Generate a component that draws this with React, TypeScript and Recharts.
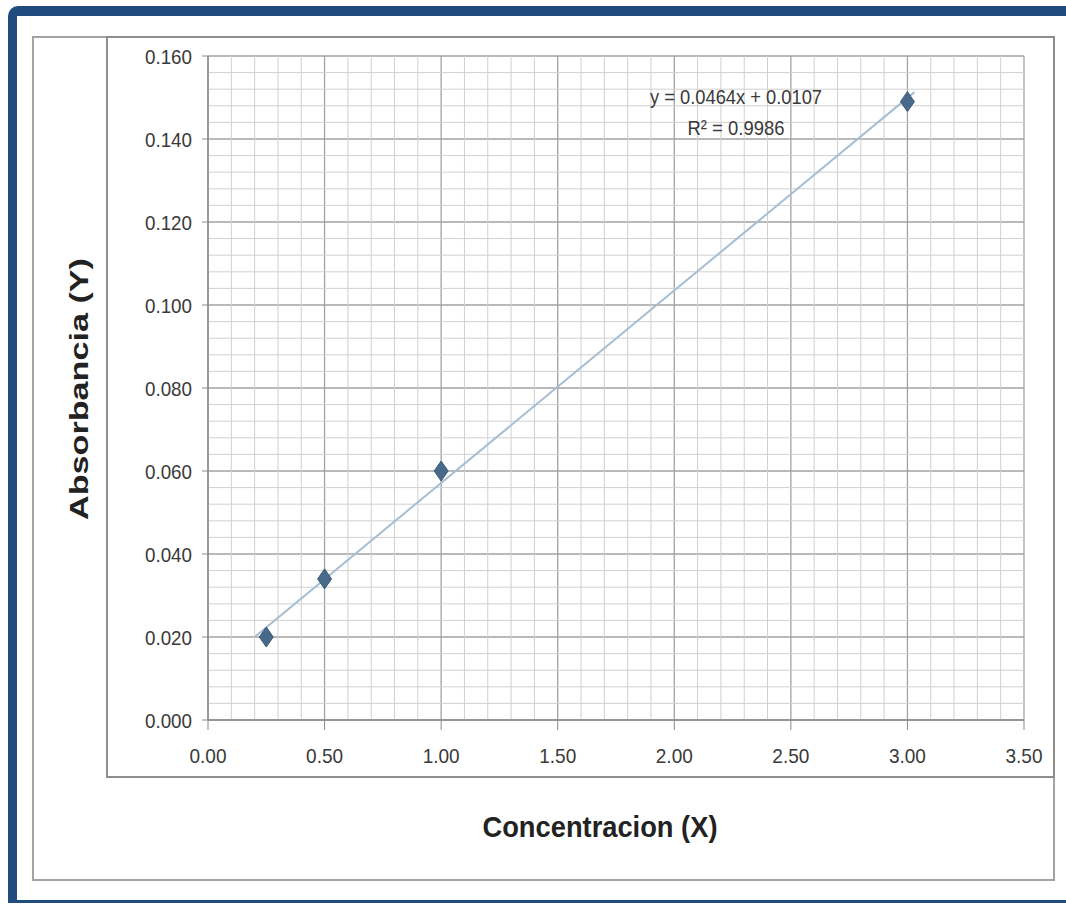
import React from "react";
import {
  ScatterChart,
  Scatter,
  XAxis,
  YAxis,
  CartesianGrid,
  ReferenceLine,
} from "recharts";

// calibration points
const concentracion = [0.25, 0.5, 1.0, 3.0];
const absorbancia = [0.02, 0.034, 0.06, 0.149];

// trendline ends (as drawn)
const trendX = [0.2, 3.03];
const trendY = [0.02, 0.1513];

const xTicks = [0, 0.5, 1, 1.5, 2, 2.5, 3, 3.5];
const yTicks = [0, 0.02, 0.04, 0.06, 0.08, 0.1, 0.12, 0.14, 0.16];

const xMinor = [
  0.1, 0.2, 0.3, 0.4, 0.6, 0.7, 0.8, 0.9, 1.1, 1.2, 1.3, 1.4, 1.6, 1.7, 1.8,
  1.9, 2.1, 2.2, 2.3, 2.4, 2.6, 2.7, 2.8, 2.9, 3.1, 3.2, 3.3, 3.4,
];
const yMinor = [
  0.004, 0.008, 0.012, 0.016, 0.024, 0.028, 0.032, 0.036, 0.044, 0.048, 0.052,
  0.056, 0.064, 0.068, 0.072, 0.076, 0.084, 0.088, 0.092, 0.096, 0.104, 0.108,
  0.112, 0.116, 0.124, 0.128, 0.132, 0.136, 0.144, 0.148, 0.152, 0.156,
];

const equationText = "y = 0.0464x + 0.0107";
const r2Text = "R² = 0.9986";

const points = concentracion.map((x, i) => ({ x, y: absorbancia[i] }));
const trend = trendX.map((x, i) => ({ x, y: trendY[i] }));

const tickFont = "'Liberation Sans Narrow', 'Arial Narrow', 'Liberation Sans', sans-serif";
const titleFont = "'Liberation Sans', Arial, sans-serif";

const Diamond = (props: any) => {
  const { cx, cy } = props;
  if (cx == null || cy == null) return <g />;
  return (
    <polygon
      points={`${cx},${cy - 10} ${cx + 7},${cy} ${cx},${cy + 10} ${cx - 7},${cy}`}
      fill="#48698a"
      stroke="#3d5b7a"
      strokeWidth={1}
    />
  );
};

const XTick = (props: any) => {
  const { x, y, payload } = props;
  return (
    <text
      x={x}
      y={y}
      dy={31}
      textAnchor="middle"
      fontFamily={tickFont}
      fontSize={21}
      fill="#3a3a3a"
      textLength={37}
      lengthAdjust="spacingAndGlyphs"
    >
      {Number(payload.value).toFixed(2)}
    </text>
  );
};

const YTick = (props: any) => {
  const { x, y, payload } = props;
  return (
    <text
      x={x - 8}
      y={y}
      dy={8}
      textAnchor="end"
      fontFamily={tickFont}
      fontSize={21}
      fill="#3a3a3a"
      textLength={47}
      lengthAdjust="spacingAndGlyphs"
    >
      {Number(payload.value).toFixed(3)}
    </text>
  );
};

export default function App() {
  return (
    <div
      style={{
        position: "absolute",
        left: 0,
        top: 0,
        width: 1066,
        height: 906,
        background: "#ffffff",
        overflow: "hidden",
      }}
    >
      {/* blue frame */}
      <div
        style={{
          position: "absolute",
          left: 8,
          top: 6,
          width: 1080,
          height: 897,
          borderTop: "10px solid #1f4b7e",
          borderLeft: "9px solid #1f4b7e",
          borderBottom: "3px solid #1f4b7e",
          borderTopLeftRadius: 10,
          boxSizing: "border-box",
        }}
      />
      {/* sheet cell borders */}
      <div
        style={{
          position: "absolute",
          left: 32,
          top: 36,
          width: 1023,
          height: 845,
          border: "2px solid #a3a3a3",
          boxSizing: "border-box",
        }}
      />
      <div
        style={{
          position: "absolute",
          left: 106,
          top: 36,
          width: 949,
          height: 742,
          border: "2px solid #8e8e8e",
          boxSizing: "border-box",
        }}
      />

      <div style={{ position: "absolute", left: 0, top: 0 }}>
        <ScatterChart
          width={1066}
          height={906}
          margin={{ top: 56, right: 42, bottom: 146, left: 148 }}
        >
          {xMinor.map((v) => (
            <ReferenceLine key={"xm" + v} x={v} stroke="#d0d0d0" strokeWidth={1} />
          ))}
          {yMinor.map((v) => (
            <ReferenceLine key={"ym" + v} y={v} stroke="#d0d0d0" strokeWidth={1} />
          ))}
          <CartesianGrid stroke="#a2a2a2" strokeWidth={1.3} />
          <XAxis
            type="number"
            dataKey="x"
            domain={[0, 3.5]}
            ticks={xTicks}
            interval={0}
            height={40}
            axisLine={{ stroke: "#8a8a8a", strokeWidth: 1.5 }}
            tickLine={{ stroke: "#8a8a8a" }}
            tickSize={10}
            tick={<XTick />}
            label={{
              content: (p: any) => {
                const vb = p.viewBox || { x: 208, y: 720, width: 816 };
                return (
                  <text
                    x={vb.x + vb.width / 2 - 16}
                    y={vb.y + 117}
                    textAnchor="middle"
                    fontFamily={titleFont}
                    fontWeight="bold"
                    fontSize={30}
                    fill="#222"
                    textLength={235}
                    lengthAdjust="spacingAndGlyphs"
                  >
                    Concentracion (X)
                  </text>
                );
              },
            }}
          />
          <YAxis
            type="number"
            dataKey="y"
            domain={[0, 0.16]}
            ticks={yTicks}
            interval={0}
            width={60}
            axisLine={{ stroke: "#8a8a8a", strokeWidth: 1.5 }}
            tickLine={{ stroke: "#8a8a8a" }}
            tickSize={6}
            tick={<YTick />}
            label={{
              content: (p: any) => {
                const vb = p.viewBox || { x: 148, y: 56, height: 664 };
                const cx = vb.x - 60;
                const cy = vb.y + vb.height / 2 + 1;
                return (
                  <text
                    x={cx}
                    y={cy}
                    transform={`rotate(-90, ${cx}, ${cy})`}
                    textAnchor="middle"
                    fontFamily={titleFont}
                    fontWeight="bold"
                    fontSize={26}
                    fill="#222"
                    textLength={262}
                    lengthAdjust="spacingAndGlyphs"
                  >
                    Absorbancia (Y)
                  </text>
                );
              },
            }}
          />
          <Scatter
            data={trend}
            line={{ stroke: "#a6bdd2", strokeWidth: 2 }}
            shape={() => <g />}
            isAnimationActive={false}
          />
          <Scatter data={points} shape={<Diamond />} isAnimationActive={false} />
        </ScatterChart>
      </div>

      {/* trendline equation */}
      <svg
        width={1066}
        height={906}
        style={{ position: "absolute", left: 0, top: 0, pointerEvents: "none" }}
      >
        <text
          x={736}
          y={104}
          textAnchor="middle"
          fontFamily={tickFont}
          fontSize={21}
          fill="#3a3a3a"
          textLength={172}
          lengthAdjust="spacingAndGlyphs"
        >
          {equationText}
        </text>
        <text
          x={736}
          y={135}
          textAnchor="middle"
          fontFamily={tickFont}
          fontSize={21}
          fill="#3a3a3a"
          textLength={97}
          lengthAdjust="spacingAndGlyphs"
        >
          {r2Text}
        </text>
      </svg>
    </div>
  );
}
